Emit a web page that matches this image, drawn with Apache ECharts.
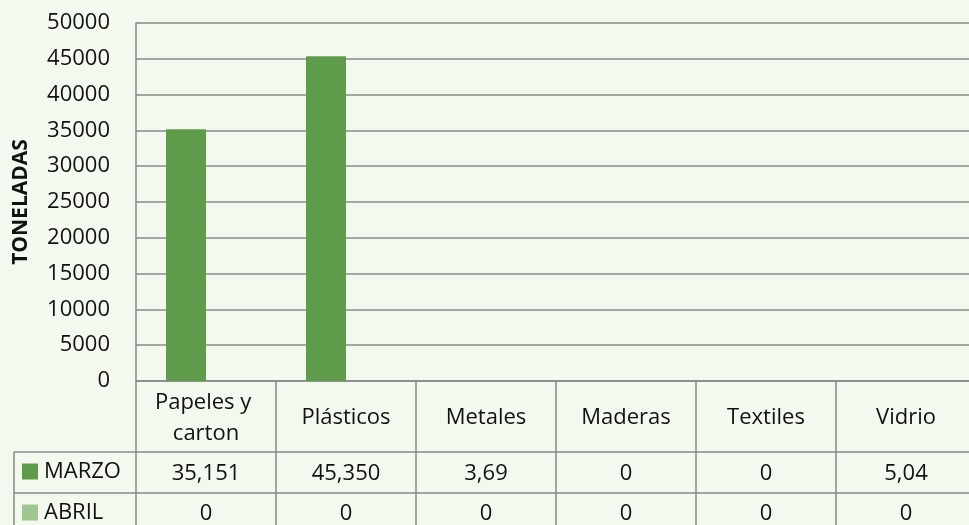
<!DOCTYPE html>
<html>
<head>
<meta charset="utf-8">
<script src="https://cdn.jsdelivr.net/npm/echarts@6/dist/echarts.min.js"></script>
<style>
  html, body { margin: 0; padding: 0; background: #f4f9ef; }
  #chart { width: 969px; height: 525px; }
</style>
</head>
<body>
<div id="chart"></div>
<script>
// datos
var categorias = ["Papeles y carton", "Plásticos", "Metales", "Maderas", "Textiles", "Vidrio"];
var marzo = [35151, 45350, 3.69, 0, 0, 5.04];
var abril = [0, 0, 0, 0, 0, 0];
var series = ["MARZO", "ABRIL"];
var colores = ["#5e9c4c", "#9cc78f"];

var fuente = "Open Sans";
var gris = "#888888";

// formato de la tabla: miles con coma, decimales con coma
function fmt(v) {
  if (v >= 1000) return v.toLocaleString("en-US");
  return String(v).replace(".", ",");
}

var myChart = echarts.init(document.getElementById("chart"));
var option = {
  backgroundColor: "#f4f9ef",
  textStyle: { fontFamily: fuente },
  animation: false,
  grid: { left: 136, top: 23, width: 840, height: 358, outerBoundsMode: "none", containLabel: false },
  legend: {
    orient: "vertical",
    left: 22,
    top: 459,
    height: 90,
    padding: 0,
    icon: "rect",
    itemWidth: 16,
    itemHeight: 16,
    itemGap: 16,
    data: series,
    textStyle: { fontFamily: fuente, fontSize: 22, color: "#111", lineHeight: 25, padding: [0, 0, 0, 1] }
  },
  yAxis: {
    type: "value",
    min: 0,
    max: 50000,
    interval: 5000,
    name: "TONELADAS",
    nameLocation: "middle",
    nameRotate: 90,
    nameGap: 104,
    nameTextStyle: { fontFamily: fuente, fontSize: 21, fontWeight: "bold", color: "#111" },
    axisLine: { show: true, lineStyle: { color: gris, width: 1.5 } },
    axisTick: { show: false },
    axisLabel: {
      margin: 26, fontSize: 22, color: "#111", fontFamily: fuente,
      formatter: function (v) { return String(v); }
    },
    splitLine: { lineStyle: { color: gris, width: 1.5 } }
  },
  xAxis: [
    {
      type: "category",
      data: categorias,
      position: "bottom",
      axisLine: { lineStyle: { color: gris, width: 1.5 } },
      axisTick: { show: true, interval: 0, length: 150, lineStyle: { color: gris, width: 1.5 } },
      axisLabel: {
        interval: 0,
        margin: 37,
        verticalAlign: "middle",
        width: 130,
        overflow: "break",
        lineHeight: 31,
        fontSize: 22,
        color: "#111",
        fontFamily: fuente
      }
    },
    {
      type: "category",
      data: categorias,
      position: "bottom",
      offset: 71,
      axisLine: { lineStyle: { color: gris, width: 1.5 } },
      axisTick: { show: false },
      axisLabel: {
        interval: 0,
        margin: 22,
        verticalAlign: "middle",
        fontSize: 22,
        color: "#111",
        fontFamily: fuente,
        formatter: function (v, i) { return fmt(marzo[i]); }
      }
    },
    {
      type: "category",
      data: categorias,
      position: "bottom",
      offset: 112,
      axisLine: { lineStyle: { color: gris, width: 1.5 } },
      axisTick: { show: false },
      axisLabel: {
        interval: 0,
        margin: 21,
        verticalAlign: "middle",
        fontSize: 22,
        color: "#111",
        fontFamily: fuente,
        formatter: function (v, i) { return fmt(abril[i]); }
      }
    }
  ],
  // bordes de la columna de leyenda de la tabla
  graphic: [
    { type: "line", shape: { x1: 14, y1: 452, x2: 136, y2: 452 }, style: { stroke: gris, lineWidth: 1.5 } },
    { type: "line", shape: { x1: 14, y1: 493, x2: 136, y2: 493 }, style: { stroke: gris, lineWidth: 1.5 } },
    { type: "line", shape: { x1: 14, y1: 452, x2: 14, y2: 530 }, style: { stroke: gris, lineWidth: 1.5 } }
  ],
  series: [
    {
      name: series[0],
      type: "bar",
      xAxisIndex: 0,
      barWidth: 40,
      barGap: 0,
      itemStyle: { color: colores[0] },
      data: marzo
    },
    {
      name: series[1],
      type: "bar",
      xAxisIndex: 0,
      barWidth: 40,
      barGap: 0,
      itemStyle: { color: colores[1] },
      data: abril
    }
  ]
};
myChart.setOption(option);
</script>
</body>
</html>
